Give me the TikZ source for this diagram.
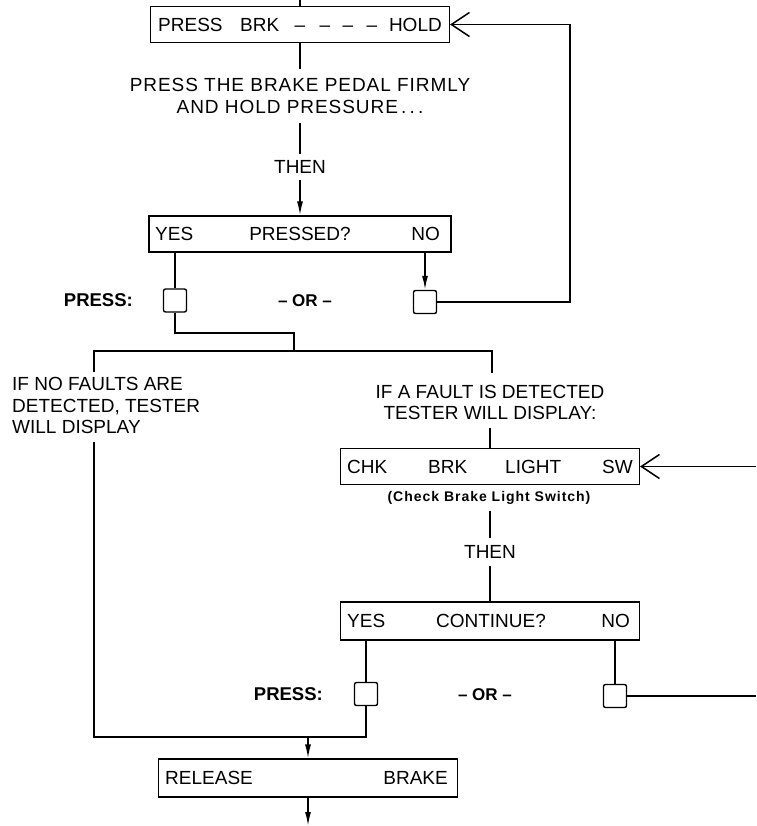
\documentclass[tikz,border=0pt]{standalone}
\usepackage{fontspec}
\setmainfont{Liberation Sans}
\newfontfamily\spacedsans{Liberation Sans}[LetterSpace=5]
\newfontfamily\smallsans{Liberation Sans}[LetterSpace=7]
\usetikzlibrary{arrows.meta}
\begin{document}
\begin{tikzpicture}[x=1pt,y=-1pt,
  box/.style={draw, line width=1.2pt, minimum width=299pt, minimum height=36pt, inner sep=0pt},
  sq/.style={draw, line width=1.4pt, rounded corners=2pt, minimum width=23pt, minimum height=23pt, inner sep=0pt},
  txt/.style={inner sep=0pt, font=\fontsize{19}{23}\selectfont, text height=13.6pt, text depth=0pt},
  btxt/.style={inner sep=0pt, font=\fontsize{18.5}{22}\selectfont\bfseries, text height=13.2pt, text depth=0pt},
  para/.style={inner sep=0pt, font=\fontsize{19}{22}\selectfont},
  ln/.style={line width=1.6pt},
  fa/.style={ln, -{Latex[length=14pt,width=6pt]}},
  oa/.style={ln, -{Straight Barb[length=18pt,width=24pt,line width=1.5pt]}},
]
\useasboundingbox (0,0) rectangle (756,826);

% ---------- first column ----------
\node[box] (box1) at (300,24.5) {};
\node[txt,anchor=west] (b1a) at (158,24.5) {PRESS};
\node[txt,anchor=west] (b1b) at (240,24.5) {BRK};
\node[txt] (b1c) at (300,24.5) {–};
\node[txt] (b1d) at (325,24.5) {–};
\node[txt] (b1e) at (348,24.5) {–};
\node[txt] (b1f) at (372,24.5) {–};
\node[txt,anchor=east] (b1g) at (442,24.5) {HOLD};

\node[para, align=center, outer ysep=9.5pt] (instr) at (300,96)
  {{\spacedsans PRESS THE BRAKE PEDAL FIRMLY}\\{\spacedsans AND HOLD PRESSURE\,.\,.\,.}};
\node[txt, outer ysep=6.5pt] (then1) at (300,167) {THEN};

\node[box, minimum width=302pt] (box2) at (300,234) {};
\node[txt,anchor=west] (b2a) at (155,234) {YES};
\node[txt] (b2b) at (300,234) {PRESSED?};
\node[txt,anchor=east] (b2c) at (440,234) {NO};

\node[sq] (sq1) at (175,300.5) {};
\node[sq] (sq2) at (425,302) {};
\node[btxt,anchor=east] (press1) at (133,300) {PRESS:};
\node[btxt, font=\fontsize{17}{20}\selectfont\bfseries] (or1) at (305,300) {– OR –};

\coordinate (top) at (300,0);
\coordinate (r1) at (570,24.5);
\coordinate (k1) at (294,333);
\coordinate (j1) at (294,351);
\coordinate (lft) at (94,351);
\coordinate (rgt) at (492,351);
\coordinate (lftend) at (94,372);
\coordinate (rgtend) at (492,373);

\draw[ln] (top) -- (box1.north);
\draw[ln] (box1.south) -- (instr.north);
\draw[ln] (instr.south) -- (then1.north);
\draw[fa] (then1.south) -- (box2.north);
\draw[ln] (box2.south -| sq1) -- (sq1.north);
\draw[fa] (box2.south -| sq2) -- (sq2.north);
\draw[oa] (sq2.east) -| (r1) -- (box1.east);
\draw[ln] (sq1.south) |- (k1) -- (j1);
\draw[ln] (lftend) -- (lft) -- (rgt) -- (rgtend);

% ---------- branch texts ----------
\node[para, align=left, anchor=west, font=\fontsize{19}{21.5}\selectfont] (nofault) at (12,405.7)
  {IF NO FAULTS ARE\\DETECTED, TESTER\\WILL DISPLAY};
\node[para, align=center, font=\fontsize{19}{21}\selectfont, outer ysep=8pt] (fault) at (490,402.5)
  {IF A FAULT IS DETECTED\\TESTER WILL DISPLAY:};

% ---------- second column ----------
\node[box] (chk) at (490,466.5) {};
\node[txt,anchor=west] (c1) at (347,466.5) {CHK};
\node[txt,anchor=west] (c2) at (428,466.5) {BRK};
\node[txt,anchor=west] (c3) at (505,466.5) {LIGHT};
\node[txt,anchor=east] (c4) at (633,466.5) {SW};
\node[inner sep=0pt, font=\fontsize{14}{16}\selectfont\smallsans\bfseries, outer ysep=6pt] (cbls) at (489,498) {(Check Brake Light Switch)};
\node[txt, outer ysep=7pt] (then2) at (490,552) {THEN};

\node[box, minimum height=38pt] (cont) at (490,621) {};
\node[txt,anchor=west] (d1) at (347,621) {YES};
\node[txt] (d2) at (491,621) {CONTINUE?};
\node[txt,anchor=east] (d3) at (630,621) {NO};

\node[sq] (sq3) at (366,694) {};
\node[sq] (sq4) at (615,696) {};
\node[btxt,anchor=east] (press2) at (323,694) {PRESS:};
\node[btxt, font=\fontsize{17}{20}\selectfont\bfseries] (or2) at (485,694) {– OR –};

\node[box, minimum height=38pt] (rel) at (308,778) {};
\node[txt,anchor=west] (e1) at (165,778) {RELEASE};
\node[txt,anchor=east] (e2) at (448,778) {BRAKE};

\coordinate (r2) at (756,466.5);
\coordinate (r3) at (756,696);
\coordinate (lft2) at (94,442);
\coordinate (j2) at (308,737);
\coordinate (bot) at (308,826);

\draw[ln] (fault.south) -- (chk.north);
\draw[oa] (r2) -- (chk.east);
\draw[ln] (cbls.south -| chk.north) -- (then2.north);
\draw[ln] (then2.south) -- (cont.north);
\draw[ln] (cont.south -| sq3) -- (sq3.north);
\draw[ln] (cont.south -| sq4) -- (sq4.north);
\draw[ln] (sq4.east) -- (r3);
\draw[ln] (lft2) |- (sq3.south |- j2) -- (sq3.south);
\draw[fa] (j2) -- (rel.north);
\draw[fa] (rel.south) -- (bot);
\end{tikzpicture}
\end{document}
